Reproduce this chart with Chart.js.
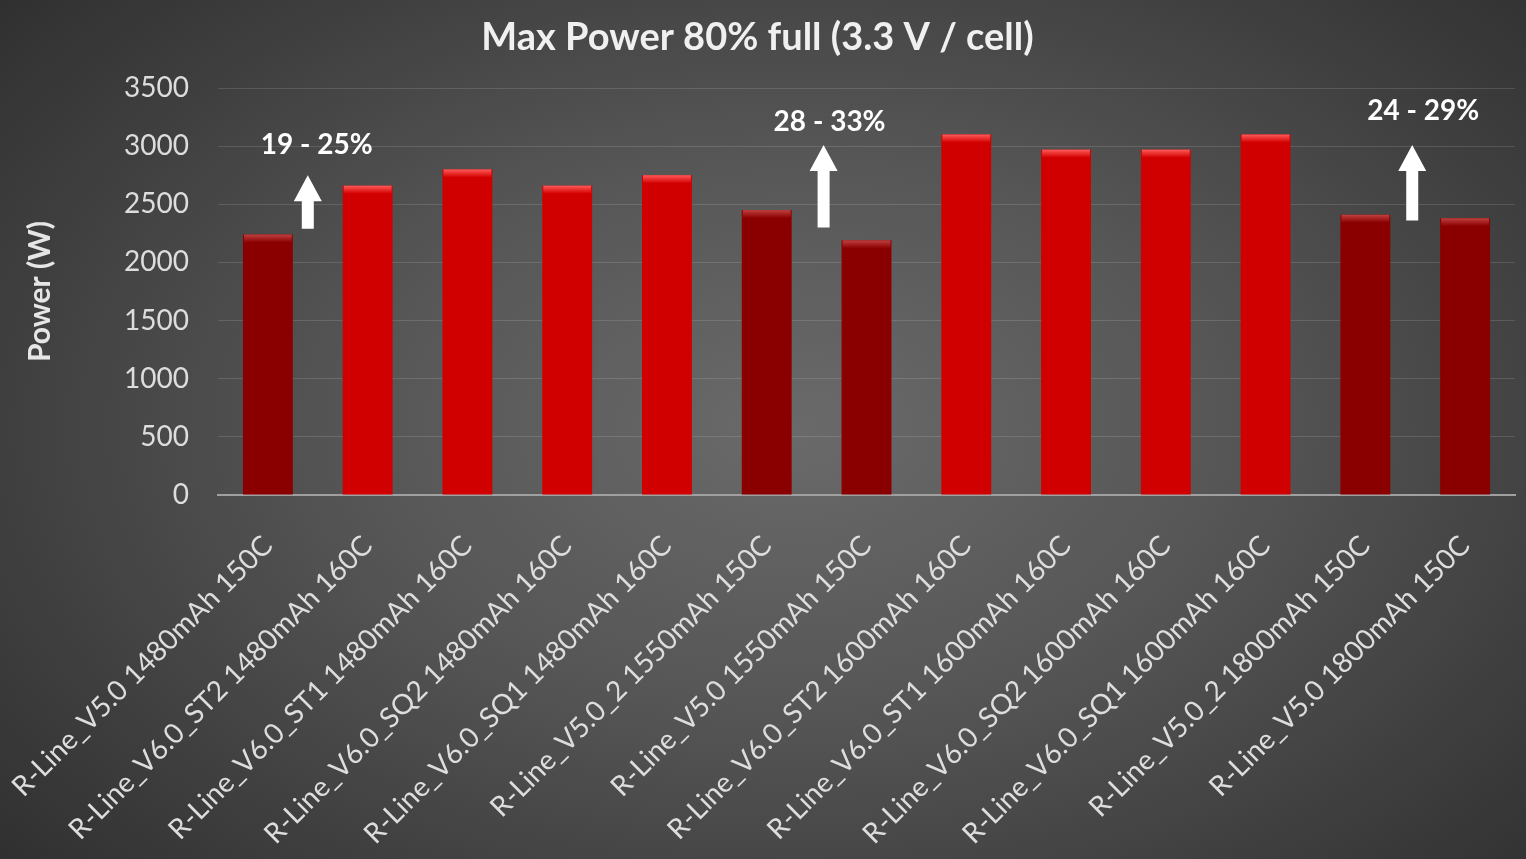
<!DOCTYPE html>
<html>
<head>
<meta charset="utf-8">
<script src="https://cdn.jsdelivr.net/npm/chart.js@4"></script>
<style>
html,body{margin:0;padding:0;width:1526px;height:859px;overflow:hidden;}
body{background:radial-gradient(ellipse 75% 85% at 52% 50%, #6a6a6a 0%, #565656 38%, #3d3d3d 72%, #2a2a2a 100%);}
#wrap{position:absolute;left:0;top:0;width:1526px;height:859px;}
</style>
</head>
<body>
<div id="wrap"><canvas id="c" width="1526" height="859"></canvas></div>
<script>
const categories = [
  "R-Line_V5.0 1480mAh 150C",
  "R-Line_V6.0_ST2 1480mAh 160C",
  "R-Line_V6.0_ST1 1480mAh 160C",
  "R-Line_V6.0_SQ2 1480mAh 160C",
  "R-Line_V6.0_SQ1 1480mAh 160C",
  "R-Line_V5.0_2 1550mAh 150C",
  "R-Line_V5.0 1550mAh 150C",
  "R-Line_V6.0_ST2 1600mAh 160C",
  "R-Line_V6.0_ST1 1600mAh 160C",
  "R-Line_V6.0_SQ2 1600mAh 160C",
  "R-Line_V6.0_SQ1 1600mAh 160C",
  "R-Line_V5.0_2 1800mAh 150C",
  "R-Line_V5.0 1800mAh 150C"
];
const powerValues = [2240, 2660, 2800, 2660, 2750, 2450, 2190, 3100, 2970, 2970, 3100, 2410, 2380];
const yTicks = [0, 500, 1000, 1500, 2000, 2500, 3000, 3500];
// annotations (positions in category units / values)
const annoLabels = ["19 - 25%", "28 - 33%", "24 - 29%"];
const annoArrowCat = [0.40, 5.57, 11.47];
const annoTextCat = [0.49, 5.63, 11.58];
const annoArrowFrom = [2290, 2300, 2360];
const annoArrowTo = [2750, 3010, 3010];
const annoTextAt = [3010, 3210, 3300];

const FONT = "Lato, 'Open Sans', sans-serif";
const isV5 = categories.map(c => c.indexOf("V5.0") >= 0);

function catPixel(xs, v) {
  const i = Math.floor(v), f = v - i;
  const a = xs.getPixelForValue(i), b = xs.getPixelForValue(i + 1);
  return a + (b - a) * f;
}

function barFill(ctx) {
  const chart = ctx.chart;
  const el = chart.getDatasetMeta(0).data[ctx.dataIndex];
  const dark = isV5[ctx.dataIndex];
  if (!el || el.x === undefined || isNaN(el.x)) return dark ? '#8a0000' : '#d00000';
  const w = el.width || 50;
  const g = chart.ctx.createLinearGradient(el.x - w / 2, 0, el.x + w / 2, 0);
  if (dark) {
    g.addColorStop(0, '#6e0000'); g.addColorStop(0.15, '#8a0000');
    g.addColorStop(0.85, '#8a0000'); g.addColorStop(1, '#6a0000');
  } else {
    g.addColorStop(0, '#b00000'); g.addColorStop(0.15, '#d30000');
    g.addColorStop(0.85, '#d30000'); g.addColorStop(1, '#aa0000');
  }
  return g;
}

const bevelPlugin = {
  id: 'bevel',
  afterDatasetsDraw(chart) {
    const ctx = chart.ctx;
    chart.getDatasetMeta(0).data.forEach((el, i) => {
      const w = el.width, x0 = el.x - w / 2, y0 = el.y;
      const g = ctx.createLinearGradient(0, y0, 0, y0 + 8);
      if (isV5[i]) { g.addColorStop(0, '#c04040'); g.addColorStop(1, '#8a0000'); }
      else { g.addColorStop(0, '#ff5a5a'); g.addColorStop(1, '#d30000'); }
      ctx.save();
      ctx.fillStyle = g;
      ctx.fillRect(x0 + 1, y0, w - 2, 8);
      ctx.restore();
    });
  }
};

const annoPlugin = {
  id: 'anno',
  afterDatasetsDraw(chart) {
    const ctx = chart.ctx, xs = chart.scales.x, ys = chart.scales.y;
    annoLabels.forEach((lab, i) => {
      const cx = catPixel(xs, annoArrowCat[i]);
      const yb = ys.getPixelForValue(annoArrowFrom[i]);
      const yt = ys.getPixelForValue(annoArrowTo[i]);
      ctx.save();
      ctx.fillStyle = '#ffffff';
      const sw = 6, hw = 14, hh = 26;
      ctx.beginPath();
      ctx.moveTo(cx - sw, yb);
      ctx.lineTo(cx - sw, yt + hh);
      ctx.lineTo(cx - hw, yt + hh);
      ctx.lineTo(cx, yt);
      ctx.lineTo(cx + hw, yt + hh);
      ctx.lineTo(cx + sw, yt + hh);
      ctx.lineTo(cx + sw, yb);
      ctx.closePath();
      ctx.fill();
      ctx.font = "bold 28px " + FONT;
      ctx.textAlign = 'center';
      ctx.textBaseline = 'middle';
      ctx.fillText(lab, catPixel(xs, annoTextCat[i]), ys.getPixelForValue(annoTextAt[i]));
      ctx.restore();
    });
  }
};

new Chart(document.getElementById('c'), {
  type: 'bar',
  data: {
    labels: categories,
    datasets: [{
      data: powerValues,
      backgroundColor: barFill,
      borderWidth: 0,
      barPercentage: 0.5,
      categoryPercentage: 1.0
    }]
  },
  options: {
    responsive: false,
    animation: false,
    devicePixelRatio: 1,
    layout: { padding: { left: 0, right: 11, top: 0, bottom: 0 } },
    plugins: {
      legend: { display: false },
      tooltip: { enabled: false },
      title: {
        display: true,
        text: 'Max Power 80% full (3.3 V / cell)',
        color: '#f0f0f0',
        font: { family: FONT, size: 38, weight: 'bold', lineHeight: 1.2 },
        padding: { top: 15, bottom: 27.4 }
      }
    },
    scales: {
      y: {
        min: 0, max: 3500,
        afterBuildTicks(s) { s.ticks = yTicks.map(v => ({ value: v })); },
        afterFit(s) { s.width = 218; s.paddingTop = 0; s.paddingBottom = 0; },
        grid: { color: 'rgba(255,255,255,0.13)', drawTicks: false, lineWidth: 1 },
        border: { display: false },
        ticks: { color: '#dddddd', font: { family: FONT, size: 28 }, padding: 29,
                 callback: v => String(v) },
        title: {
          display: true, text: 'Power (W)', color: '#e6e6e6',
          font: { family: FONT, size: 30, weight: 'bold' },
          padding: { top: 22, bottom: 0 }
        }
      },
      x: {
        afterFit(s) { s.height = 364; s.paddingLeft = 0; s.paddingRight = 0; },
        grid: { display: false, drawTicks: false },
        border: { display: true, color: '#a0a0a0', width: 2 },
        ticks: {
          color: '#dddddd', font: { family: FONT, size: 28 },
          minRotation: 45, maxRotation: 45, autoSkip: false, padding: 34
        }
      }
    }
  },
  plugins: [bevelPlugin, annoPlugin]
});
</script>
</body>
</html>
